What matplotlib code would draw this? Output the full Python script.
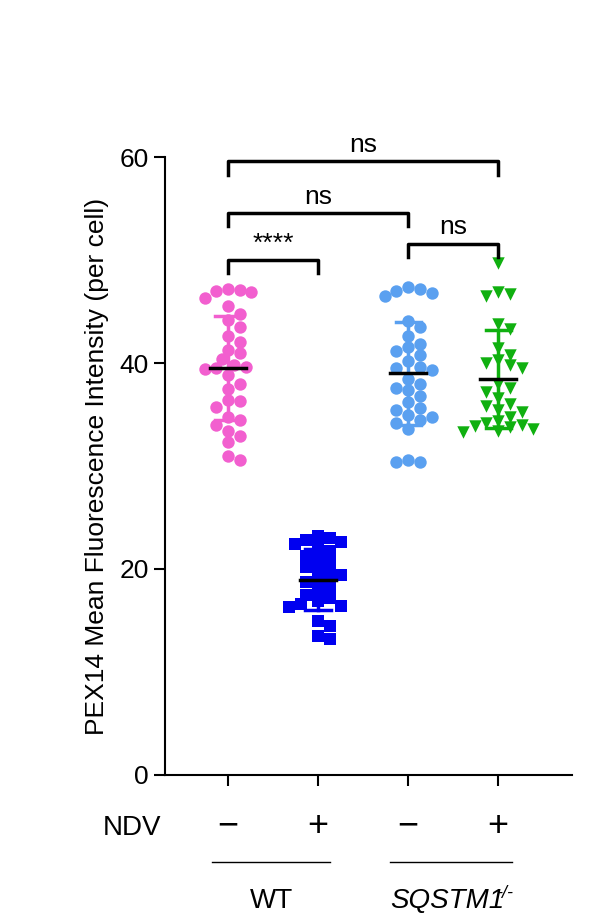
import numpy as np
import matplotlib
matplotlib.use("Agg")
import matplotlib.pyplot as plt

plt.rcParams["font.family"] = "Liberation Sans"

groups = ["WT -", "WT +", "SQSTM1 -", "SQSTM1 +"]
wt_mock = [47.2, 47.1, 47.0, 46.9, 46.3, 45.5, 44.8, 44.2, 43.5, 42.6, 42.0, 41.3, 41.0, 40.4, 39.8, 39.6, 39.5, 39.4,
           38.8, 38.0, 37.5, 36.4, 36.3, 35.7, 34.8, 34.5, 34.0, 33.4, 32.9, 32.3, 31.0, 30.6]
wt_ndv = [23.2, 23.0, 22.8, 22.6, 22.4, 22.0, 21.7, 21.3, 21.0, 20.6, 20.2, 20.0, 19.6, 19.4, 19.0, 18.7, 18.2, 17.9,
          17.5, 17.2, 16.9, 16.6, 16.4, 16.3, 15.0, 14.5, 13.5, 13.2]
sq_mock = [47.4, 47.2, 47.0, 46.8, 46.5, 44.1, 43.5, 42.6, 41.8, 41.6, 41.2, 40.8, 40.2, 39.6, 39.5, 39.3, 38.4, 38.0,
           37.6, 37.4, 36.8, 36.2, 35.6, 35.4, 35.0, 34.8, 34.5, 34.2, 33.6, 30.6, 30.4, 30.4]
sq_ndv = [49.7, 46.9, 46.7, 46.5, 43.8, 43.3, 41.5, 40.8, 40.3, 40.0, 39.8, 39.5, 38.0, 37.6, 37.2, 36.6, 36.0,
          35.8, 35.4, 35.2, 34.8, 34.4, 34.2, 34.0, 33.9, 33.8, 33.6, 33.4, 33.3]
data = [wt_mock, wt_ndv, sq_mock, sq_ndv]
colors = ["#f25fcf", "#0000f0", "#5aa0f0", "#10b010"]
markers = ["o", "s", "o", "v"]
brackets = [(0, 1, 50.0, "****"), (0, 2, 54.6, "ns"), (2, 3, 51.6, "ns"), (0, 3, 59.6, "ns")]

fig = plt.figure(figsize=(6.1, 9.22), dpi=100)
ax = fig.add_axes([165/610, 1-775/922, (572-165)/610, (775-157)/922])
ax.set_xlim(-0.7, 3.82)
ax.set_ylim(0, 60)

def swarm(vals, width=0.1, step=0.9):
    xs = []
    placed = []
    for v in vals:
        k = 0
        while True:
            cand = [0.0] if k == 0 else [k*width*0.5, -k*width*0.5]
            ok = None
            for c in cand:
                if all((c-px)**2/(width**2) + (v-py)**2/(step**2) >= 1 for px, py in placed):
                    ok = c
                    break
            if ok is not None:
                break
            k += 1
        placed.append((ok, v))
        xs.append(ok)
    return np.array(xs)

for i, vals in enumerate(data):
    v = np.array(vals)
    xs = i + swarm(vals, width=0.13, step=1.0)
    m, sd = v.mean(), v.std(ddof=1)
    ax.plot([i, i], [m-sd, m+sd], color=colors[i], lw=2.5, zorder=1)
    for e in (m-sd, m+sd):
        ax.plot([i-0.14, i+0.14], [e, e], color=colors[i], lw=2.5, zorder=1)
    ax.scatter(xs, v, s=80, marker=markers[i], color=colors[i], zorder=2, linewidths=0)
    ax.plot([i-0.2, i+0.2], [m, m], color="black", lw=2.5, zorder=3)

for a, b, y, t in brackets:
    ax.plot([a, a, b, b], [y-1.3, y, y, y-1.3], color="black", lw=2.5, clip_on=False)
    ax.text((a+b)/2, y+0.4, t, ha="center", va="bottom", fontsize=19, clip_on=False)

for s in ["top", "right"]:
    ax.spines[s].set_visible(False)
for s in ["left", "bottom"]:
    ax.spines[s].set_linewidth(1.5)
ax.set_yticks([0, 20, 40, 60])
ax.set_xticks([0, 1, 2, 3])
ax.set_xticklabels([])
ax.tick_params(axis="both", width=1.5, length=8, labelsize=19)
ax.set_ylabel("PEX14 Mean Fluorescence Intensity (per cell)", fontsize=19, labelpad=8)

fig.text(132/610, 1-828/922, "NDV", fontsize=20, ha="center", va="center")
for i, s in enumerate(["−", "+", "−", "+"]):
    fig.text((228+90*i)/610, 1-826/922, s, fontsize=26, ha="center", va="center")
fig.add_artist(plt.Line2D([212/610, 330/610], [1-862/922]*2, color="black", lw=1))
fig.add_artist(plt.Line2D([390/610, 512/610], [1-862/922]*2, color="black", lw=1))
fig.text(272/610, 1-901/922, "WT", fontsize=20, ha="center", va="center")
fig.text(447/610, 1-901/922, "SQSTM1", fontsize=20, style="italic", ha="center", va="center")
fig.text(505/610, 1-893/922, "-/-", fontsize=13, style="italic", ha="center", va="center")
fig.savefig("out.png", dpi=100)
